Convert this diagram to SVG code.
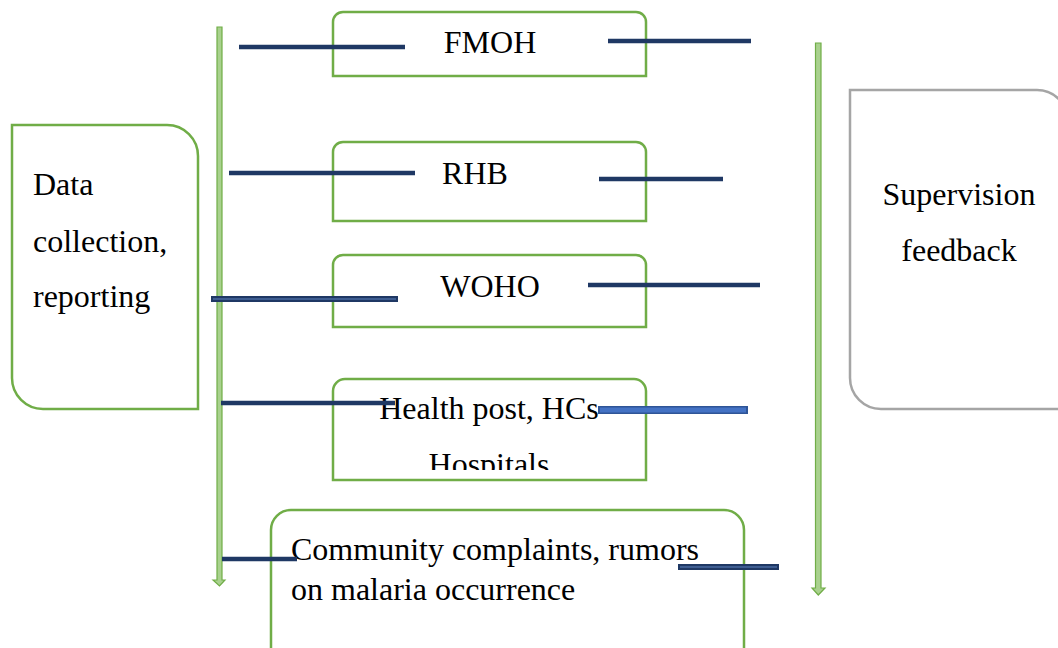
<svg xmlns="http://www.w3.org/2000/svg" width="1058" height="648" viewBox="0 0 1058 648">
<style>
.box{fill:#fff;stroke:#70ad47;stroke-width:2.5}
.gbox{fill:#fff;stroke:#a5a5a5;stroke-width:2.5}
.t{font-family:"Liberation Serif","Times New Roman",serif;font-size:32px;fill:#000}
.ln{stroke:#1f3864;stroke-width:4.5;fill:none}
.dl{stroke:#1f3864;stroke-width:6;fill:none}
.dli{stroke:#4a6aa0;stroke-width:1.5;fill:none}
.bl{stroke:#2f5597;stroke-width:8;fill:none}
.bli{stroke:#4472c4;stroke-width:5;fill:none}
.arr{fill:#a9d18e;stroke:#70ad47;stroke-width:1.2}
</style>
<defs>
<clipPath id="hclip"><rect x="334" y="380" width="311" height="90"/></clipPath>
</defs>
<rect width="1058" height="648" fill="#fff"/>
<g id="data-collection">
<path class="box" d="M12 125 H167 A31 31 0 0 1 198 156 V409 H43 A31 31 0 0 1 12 378 Z"/>
<text class="t" x="33" y="195">Data</text>
<text class="t" x="33" y="252">collection,</text>
<text class="t" x="33" y="307">reporting</text>
</g>
<g id="supervision-feedback">
<path class="gbox" d="M850 90 H1037 A31 31 0 0 1 1068 121 V409 H881 A31 31 0 0 1 850 378 Z"/>
<text class="t" x="959" y="205" text-anchor="middle">Supervision</text>
<text class="t" x="959" y="261" text-anchor="middle">feedback</text>
</g>
<g id="fmoh">
<path class="box" d="M333 76 V22 A10 10 0 0 1 343 12 H636 A10 10 0 0 1 646 22 V76 Z"/>
<text class="t" x="490" y="53" text-anchor="middle">FMOH</text>
</g>
<g id="rhb">
<path class="box" d="M333 221 V152 A10 10 0 0 1 343 142 H636 A10 10 0 0 1 646 152 V221 Z"/>
<text class="t" x="475" y="184" text-anchor="middle">RHB</text>
</g>
<g id="woho">
<path class="box" d="M333 327 V265 A10 10 0 0 1 343 255 H636 A10 10 0 0 1 646 265 V327 Z"/>
<text class="t" x="490" y="297" text-anchor="middle">WOHO</text>
</g>
<g id="health-post">
<path class="box" d="M333 480 V391 A12 12 0 0 1 345 379 H634 A12 12 0 0 1 646 391 V480 Z"/>
<g clip-path="url(#hclip)">
<text class="t" x="489" y="419" text-anchor="middle">Health post, HCs</text>
<text class="t" x="489" y="475" text-anchor="middle">Hospitals</text>
</g>
</g>
<g id="community">
<path class="box" d="M271 660 V530 A20 20 0 0 1 291 510 H724 A20 20 0 0 1 744 530 V660"/>
<text class="t" x="291" y="560">Community complaints, rumors</text>
<text class="t" x="291" y="600">on malaria occurrence</text>
</g>
<g id="connectors">
<path class="arr" d="M217 27 H222 V580 H225 L219.5 586 L213 580 H217 Z"/>
<path class="arr" d="M815.5 43 H821 V588 H825 L818.3 595 L812 588 H815.5 Z"/>
<line class="ln" x1="239" y1="47" x2="405" y2="47"/>
<line class="ln" x1="608" y1="41" x2="751" y2="41"/>
<line class="ln" x1="229" y1="173" x2="415" y2="173"/>
<line class="ln" x1="599" y1="179" x2="723" y2="179"/>
<line class="dl" x1="211" y1="299" x2="398" y2="299"/>
<line class="dli" x1="213" y1="299" x2="396" y2="299"/>
<line class="ln" x1="588" y1="285" x2="760" y2="285"/>
<line class="ln" x1="221" y1="403" x2="395" y2="403"/>
<line class="bl" x1="598" y1="410" x2="748" y2="410"/>
<line class="bli" x1="600" y1="410" x2="746" y2="410"/>
<line class="ln" x1="222" y1="559" x2="297" y2="559"/>
<line class="dl" x1="678" y1="567" x2="779" y2="567"/>
<line class="dli" x1="680" y1="567" x2="777" y2="567"/>
</g>
</svg>
